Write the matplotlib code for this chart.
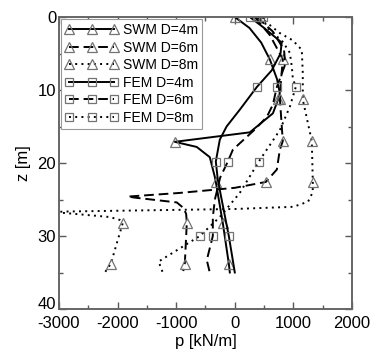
import matplotlib
matplotlib.use('Agg')
import matplotlib.pyplot as plt
from matplotlib.ticker import MultipleLocator

plt.rcParams['font.family'] = ['Liberation Sans', 'DejaVu Sans']
plt.rcParams['axes.unicode_minus'] = False

# depth z [m] and soil reaction p [kN/m]
SWM_D4_z = [0, 1.5, 3.5, 5.8, 8.5, 10.4, 11.3, 13.2, 15.8, 17.1, 17.8, 19.2, 21.9, 22.6, 28.2, 33.8, 35]
SWM_D4_p = [0, 250, 450, 597, 720, 768, 740, 650, 256, -1024, -650, -427, -341, -324, -205, -102, -85]
SWM_D4_mk = [0, 3, 6, 9, 13, 14, 15]

SWM_D6_z = [0, 2.5, 5.8, 8.5, 11.3, 17, 18.2, 20.9, 22.6, 23.4, 24.1, 24.6, 24.75, 25.4, 26.2, 27, 28.2, 33.8, 34.8]
SWM_D6_p = [341, 600, 820, 790, 770, 819, 768, 717, 529, 0, -940, -1826, -1700, -990, -870, -830, -819, -853, -880]
SWM_D6_mk = [2, 4, 5, 8, 16, 17]

SWM_D8_z = [0, 2.2, 3.2, 4.5, 7.7, 11.3, 17, 22.6, 24, 25.3, 26.0, 26.3, 26.65, 26.75, 26.85, 27.4, 27.8, 28.2, 33.8, 35]
SWM_D8_p = [427, 768, 990, 1143, 1160, 1160, 1314, 1331, 1330, 1250, 1000, 0, -2900, -3150, -2900, -2133, -1962, -1911, -2116, -2218]
SWM_D8_mk = [5, 6, 7, 17, 18]

FEM_D4_z = [0, 1.5, 3.5, 5, 7.3, 9.6, 12.7, 15, 16.8, 19.8, 22.3, 26, 30, 35]
FEM_D4_p = [256, 500, 800, 780, 631, 375, 85, -140, -256, -324, -290, -200, -102, 0]
FEM_D4_mk = [0, 5, 9, 12]

FEM_D6_z = [0, 2, 4.5, 6.5, 9.6, 12, 13.7, 15.5, 17.3, 18.2, 19.8, 22, 25, 27.4, 30, 33.3, 35]
FEM_D6_p = [376, 650, 840, 860, 717, 650, 546, 330, 85, -34, -119, -250, -340, -375, -375, -478, -427]
FEM_D6_mk = [0, 4, 10, 14]

FEM_D8_z = [0, 1.4, 3.4, 4.9, 6.8, 8.4, 9.6, 12.3, 15.5, 19.8, 24.1, 27.4, 30, 33.5, 35]
FEM_D8_p = [478, 546, 819, 939, 973, 990, 1040, 939, 768, 410, 85, -256, -597, -1300, -1230]
FEM_D8_mk = [0, 6, 9, 12]

Z_TICKS = [0, 10, 20, 30, 40]

DASHED = (0, (5, 2.5))
DOTTED = (0, (1, 2.2))

fig = plt.figure(figsize=(3.72, 3.55), dpi=100)
ax = fig.add_axes([59/372, 1 - 309/355, 293/372, 292/355])

series = [
    (SWM_D4_p, SWM_D4_z, SWM_D4_mk, '-', '^', 'SWM D=4m'),
    (SWM_D6_p, SWM_D6_z, SWM_D6_mk, DASHED, '^', 'SWM D=6m'),
    (SWM_D8_p, SWM_D8_z, SWM_D8_mk, DOTTED, '^', 'SWM D=8m'),
    (FEM_D4_p, FEM_D4_z, FEM_D4_mk, '-', 's', 'FEM D=4m'),
    (FEM_D6_p, FEM_D6_z, FEM_D6_mk, DASHED, 's', 'FEM D=6m'),
    (FEM_D8_p, FEM_D8_z, FEM_D8_mk, DOTTED, 's', 'FEM D=8m'),
]
for p, z, mk, ls, m, lbl in series:
    ms = 7.5 if m == '^' else 6
    ax.plot(p, z, color='black', linestyle=ls, lw=1.4, marker=m, markevery=mk,
            ms=ms, mfc='none', mec='0.45', mew=0.9, label=lbl)

ax.set_xlim(-3000, 2000)
ax.set_ylim(40, 0)
ax.xaxis.set_major_locator(MultipleLocator(1000))
ax.xaxis.set_minor_locator(MultipleLocator(500))
ax.set_yticks(Z_TICKS)
ax.yaxis.set_minor_locator(MultipleLocator(5))
ax.tick_params(which='both', direction='in', top=True, right=True, color='0.35', width=1.0)
ax.tick_params(which='major', length=5, labelsize=12)
ax.tick_params(which='minor', length=3)
ax.tick_params(axis='x', which='major', pad=5)
ax.tick_params(axis='y', which='major', pad=2)
for s in ax.spines.values():
    s.set_color('0.4')
    s.set_linewidth(1.4)

# "40" sits on the corner: anchor it by its baseline so it clears "-3000"
ax.get_yticklabels()[-1].set_verticalalignment('baseline')

ax.set_xlabel('p [kN/m]', fontsize=12, labelpad=2)
ax.set_ylabel('z [m]', fontsize=12, labelpad=5)

leg = ax.legend(loc='upper left', fontsize=10, numpoints=3, handlelength=3.8,
                handletextpad=0.35, labelspacing=0.25, borderpad=0.3,
                borderaxespad=0.15, fancybox=False, framealpha=1)
leg.get_frame().set_edgecolor('0.6')
leg.get_frame().set_linewidth(0.8)

plt.savefig('out.png', dpi=100)
